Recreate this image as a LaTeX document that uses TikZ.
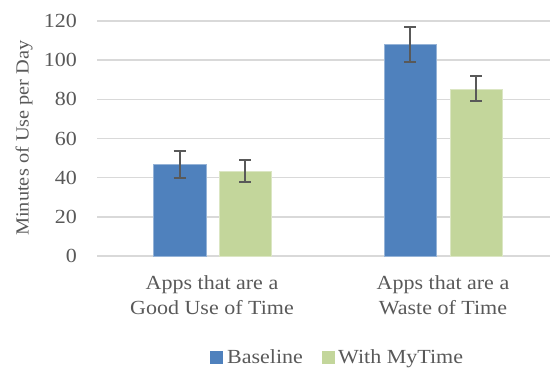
\documentclass[tikz,border=0pt]{standalone}
\usepackage{fontspec}
\setmainfont[FakeStretch=1.1]{Liberation Serif}
\usepackage{tikz}
\usetikzlibrary{positioning}
\definecolor{axisgray}{RGB}{89, 89, 89}
\definecolor{gridgray}{RGB}{217, 217, 217}
\definecolor{baselineblue}{RGB}{79, 129, 189}
\definecolor{mytimegreen}{RGB}{195, 214, 155}

\begin{document}
\begin{tikzpicture}[x=1pt,y=1pt,
    chartfont/.style={font=\fontsize{20}{25}\selectfont,text=axisgray,inner sep=0pt},
    gridline/.style={gridgray,line width=1.5pt},
    errbar/.style={axisgray,line width=2pt},
    basebar/.style={fill=baselineblue,draw=baselineblue!60!white,line width=0.8pt},
    timebar/.style={fill=mytimegreen,draw=mytimegreen!60!white,line width=0.8pt}]
    \useasboundingbox (0,0) rectangle (550,369);

    % value axis: 0 sits at y=113, 1 minute = 1.958pt
    \begin{scope}[yshift=113pt,y=1.958pt]
        \foreach \v in {0,20,...,120} {
            \draw[gridline] (97,\v) -- (550,\v);
            \node[chartfont,anchor=east] (tick\v) at (77,\v) {\v};
        }

        % bars
        \draw[basebar] (153,0) rectangle (206,46.8);
        \draw[timebar] (219,0) rectangle (271,43.4);
        \draw[basebar] (384,0) rectangle (436,108.1);
        \draw[timebar] (450,0) rectangle (502,85.3);

        % error bars
        \foreach \x/\lo/\hi in {179.5/39.8/53.6, 245/37.8/49, 410/99.1/117.1, 476/79.2/91.9} {
            \draw[errbar] (\x,\lo) -- (\x,\hi);
            \draw[errbar] (\x-6,\lo) -- (\x+6,\lo);
            \draw[errbar] (\x-6,\hi) -- (\x+6,\hi);
        }
    \end{scope}

    \node[chartfont,font=\fontsize{18.5}{22}\selectfont,rotate=90] (ytitle) at (24,231) {Minutes of Use per Day};

    \node[chartfont,align=center,anchor=north] (goodapps) at (212,93.5) {Apps that are a\\Good Use of Time};
    \node[chartfont,align=center,anchor=north] (wasteapps) at (443,93.5) {Apps that are a\\Waste of Time};

    % legend
    \fill[baselineblue] (210,5) rectangle (223,18);
    \node[chartfont,anchor=base west] (baselinekey) at (227,5) {Baseline};
    \fill[mytimegreen] (322,5) rectangle (335,18);
    \node[chartfont,anchor=base west] (mytimekey) at (338,5) {With MyTime};
\end{tikzpicture}
\end{document}
